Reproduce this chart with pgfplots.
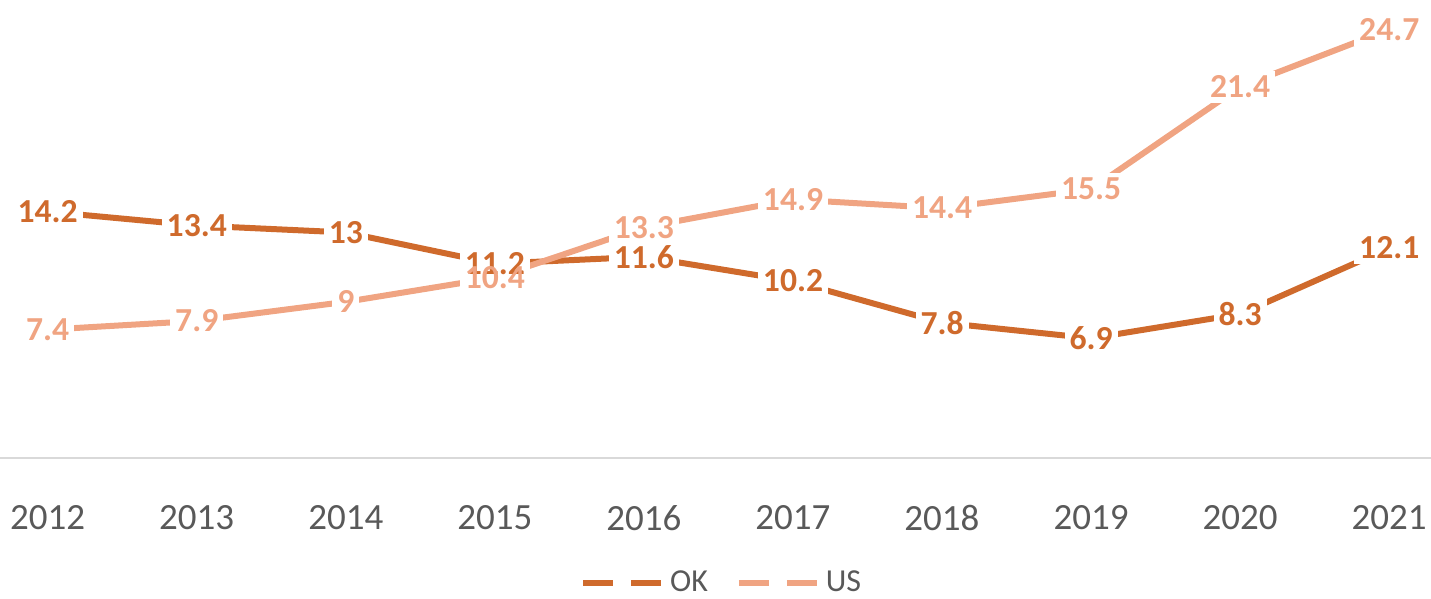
\documentclass[border=0pt]{standalone}
\usepackage{fontspec}
\setmainfont{Carlito}
\usepackage{pgfplots}
\pgfplotsset{compat=1.18}
\definecolor{okc}{RGB}{207,106,44}
\definecolor{usc}{RGB}{240,164,130}
\definecolor{ticktext}{RGB}{89,89,89}
\definecolor{axisgray}{RGB}{217,217,217}

\pgfplotstableread{
year ok us
2012 14.2 7.4
2013 13.4 7.9
2014 13   9
2015 11.2 10.4
2016 11.6 13.3
2017 10.2 14.9
2018 7.8 14.4
2019 6.9 15.5
2020 8.3 21.4
2021 12.1 24.7
}\rates

\begin{document}
\begin{tikzpicture}
\begin{axis}[
    at={(0,0)}, anchor=south west,
    scale only axis,
    width=715.5pt, height=229pt,
    xmin=2011.68, xmax=2021.28,
    ymin=0, ymax=26.4,
    axis y line=none,
    axis x line*=bottom,
    x axis line style={draw=axisgray, line width=1.2pt, -},
    xtick={2012,...,2021},
    major tick length=0pt,
    xticklabel style={anchor=center, yshift=-30pt, text=ticktext,
        font=\fontsize{18.5}{18.5}\selectfont},
    /pgf/number format/assume math mode=true,
    x tick label style={/pgf/number format/1000 sep={}},
    clip=false,
    nodes near coords style={anchor=center, inner sep=2.5pt,
        font=\bfseries\fontsize{16.8}{16.8}\selectfont,
        /pgf/number format/assume math mode=true},
    legend style={at={(0.505,-0.273)}, anchor=center, draw=none, fill=none,
        legend columns=-1, text=ticktext,
        font=\fontsize{16}{16}\selectfont,
        /tikz/every even column/.append style={column sep=12pt}},
    legend image code/.code={
        \draw[#1, dash pattern=on 15pt off 9pt] (0pt,0pt) -- (40pt,0pt);},
]
% lines
\addplot[okc, line width=3pt, line join=round] table[x=year, y=ok] {\rates};
\addlegendentry{OK}
\addplot[usc, line width=3pt, line join=round] table[x=year, y=us] {\rates};
\addlegendentry{US}
% gaps in the lines behind the labels
\addplot[draw=none, forget plot,
    nodes near coords={\phantom{\pgfmathprintnumber{\pgfplotspointmeta}}},
    every node near coord/.append style={fill=white}]
    table[x=year, y=ok] {\rates};
\addplot[draw=none, forget plot,
    nodes near coords={\phantom{\pgfmathprintnumber{\pgfplotspointmeta}}},
    every node near coord/.append style={fill=white}]
    table[x=year, y=us] {\rates};
% label texts
\addplot[draw=none, forget plot, nodes near coords,
    every node near coord/.append style={text=okc}]
    table[x=year, y=ok] {\rates};
\addplot[draw=none, forget plot, nodes near coords,
    every node near coord/.append style={text=usc}]
    table[x=year, y=us] {\rates};
\end{axis}
\pgfresetboundingbox
\path[use as bounding box] (0pt,-70.5pt) rectangle (715.5pt,229pt);
\end{tikzpicture}
\end{document}
